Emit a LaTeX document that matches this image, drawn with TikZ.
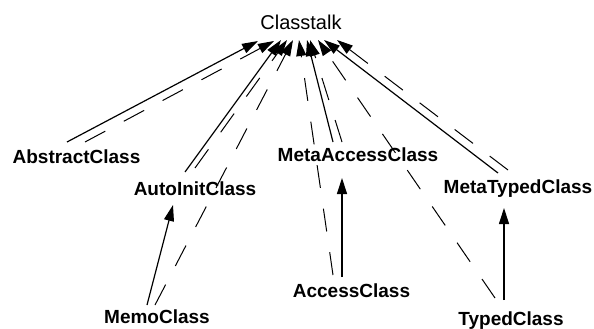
\documentclass[tikz,border=0pt]{standalone}
\usepackage{fontspec}
\setmainfont{Liberation Sans}
\usetikzlibrary{arrows.meta,calc}
\tikzset{
  lbl/.style={font=\fontsize{19}{22}\selectfont\bfseries, inner sep=0pt, anchor=base},
  toplbl/.style={font=\fontsize{20}{24}\selectfont, inner sep=0pt, anchor=base},
  inh/.style={line width=1.2pt, -{Triangle[length=16pt,width=10pt]}},
  inst/.style={line width=1pt, dash pattern=on 23pt off 21pt, -{Triangle[length=16pt,width=10pt]}}
}
\begin{document}
\begin{tikzpicture}[x=1pt,y=-1pt]
\useasboundingbox (0,0) rectangle (594,329);
\node[toplbl] (ct) at (301,30) {Classtalk};
\node[lbl] (abs) at (76.5,163) {AbstractClass};
\node[lbl] (auto) at (195,195) {AutoInitClass};
\node[lbl] (mac) at (358,161) {MetaAccessClass};
\node[lbl] (mtc) at (518,193) {MetaTypedClass};
\node[lbl] (memo) at (157,323) {MemoClass};
\node[lbl] (acc) at (351.5,297) {AccessClass};
\node[lbl] (tc) at (511,325) {TypedClass};
% inheritance
\draw[inh] ($(abs.base)+(-9.5,-21)$) -- ($(ct.base)+(-43,11)$);
\draw[inh] ($(auto.base)+(-10,-23)$) -- ($(ct.base)+(-20,10)$);
\draw[inh] ($(mac.base)+(-25,-19)$) -- ($(ct.base)+(6,10)$);
\draw[inh] ($(mtc.base)+(-20,-20)$) -- ($(ct.base)+(23,10)$);
\draw[inh] ($(memo.base)+(-10,-18)$) -- ($(auto.base)+(-22,10)$);
\draw[inh] ($(acc.base)+(-9.5,-20)$) -- ($(mac.base)+(-16,17)$);
\draw[inh] ($(tc.base)+(-7,-25)$) -- ($(mtc.base)+(-14,15)$);
% instance-of
\draw[inst] ($(abs.base)+(8.5,-21)$) -- ($(ct.base)+(-27,11)$);
\draw[inst] ($(auto.base)+(0,-27)$) -- ($(ct.base)+(-14,10)$);
\draw[inst] ($(memo.base)+(-2,-18)$) -- ($(ct.base)+(-8,10)$);
\draw[inst] ($(acc.base)+(-18.5,-22)$) -- ($(ct.base)+(-2,10)$);
\draw[inst] ($(mac.base)+(-16,-19)$) -- ($(ct.base)+(9,10)$);
\draw[inst] ($(tc.base)+(-16,-27)$) -- ($(ct.base)+(17,10)$);
\draw[inst] ($(mtc.base)+(-10,-23)$) -- ($(ct.base)+(36,10)$);
\end{tikzpicture}
\end{document}
